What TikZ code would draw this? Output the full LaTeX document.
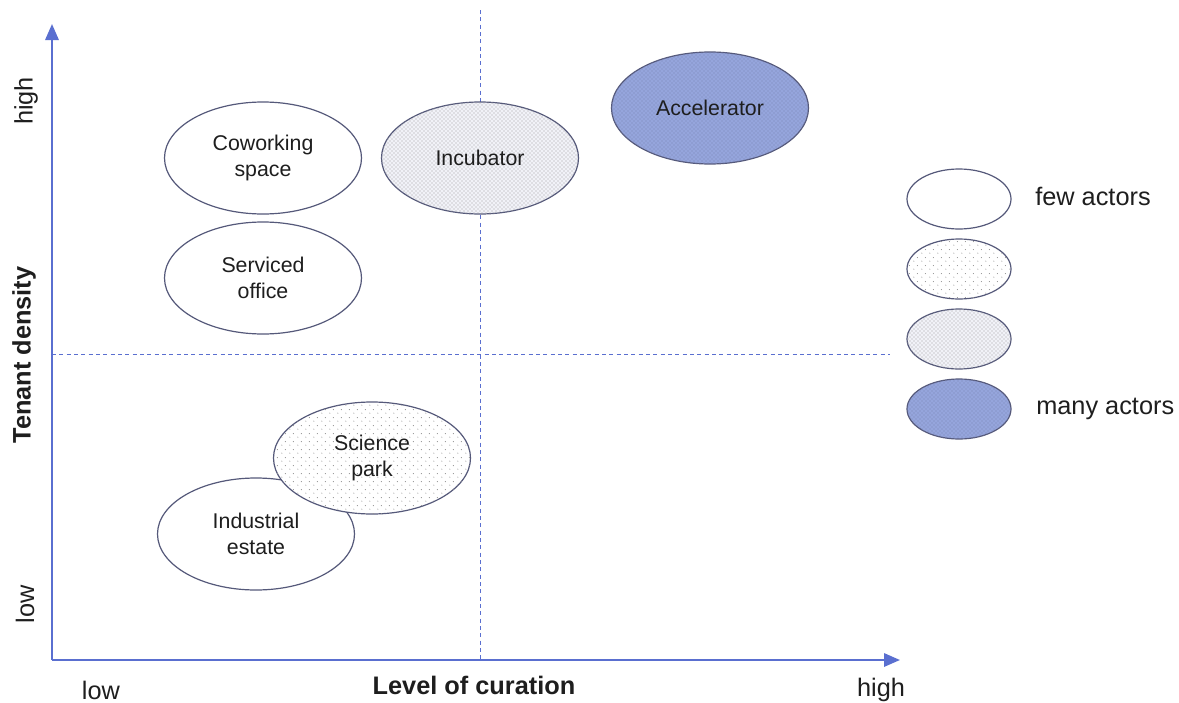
\documentclass[tikz,border=0pt]{standalone}
\usepackage{fontspec}
\setmainfont{Liberation Sans}
\usetikzlibrary{shapes.geometric,arrows.meta,patterns,patterns.meta}
\definecolor{axisblue}{HTML}{5A6FD0}
\definecolor{edge}{HTML}{55597A}
\definecolor{accfill}{HTML}{95A5DC}
\definecolor{accdot}{HTML}{4C5A9A}
\definecolor{midfill}{HTML}{F1F2F8}
\definecolor{txt}{HTML}{1E1E1E}
\def\px{0.75pt}
\tikzdeclarepattern{
  name=sparsedots, type=uncolored,
  bottom left={(0pt,0pt)}, top right={(6pt,6pt)}, tile size={(6pt,6pt)},
  code={\pgfpathcircle{\pgfqpoint{1.5pt}{1.5pt}}{0.45pt}\pgfpathcircle{\pgfqpoint{4.5pt}{4.5pt}}{0.45pt}\pgfusepath{fill}}
}
\tikzset{
  blob/.style={ellipse, draw=edge, line width=0.9pt, inner sep=0pt,
    minimum width=197*\px, minimum height=112*\px, align=center,
    font=\fontsize{16}{20}\selectfont, text=txt},
  few/.style={blob, fill=white},
  some/.style={blob, fill=white, postaction={pattern=sparsedots, pattern color=gray!85}},
  more/.style={blob, fill=midfill, postaction={pattern=crosshatch dots, pattern color=gray!75}},
  many/.style={blob, fill=accfill, postaction={pattern=crosshatch dots, pattern color=accdot!75}},
  legend/.style={minimum width=104*\px, minimum height=60*\px},
  axis/.style={draw=axisblue, line width=1.6pt, -{Triangle[length=12pt,width=10pt]}},
  guide/.style={draw=axisblue, line width=0.7pt, dash pattern=on 3pt off 2.5pt},
  lab/.style={font=\fontsize{19}{22}\selectfont, text=txt, inner sep=0pt},
  blab/.style={lab, font=\fontsize{19}{22}\selectfont\bfseries}
}
\begin{document}
\begin{tikzpicture}[x=0.75pt, y=-0.75pt]
\useasboundingbox (0,0) rectangle (1179,703);
% guides
\coordinate (vtop) at (480,10);
\coordinate (vbot) at (480,660);
\coordinate (hl) at (52,354);
\coordinate (hr) at (890,354);
\draw[guide] (vtop) -- (vbot);
\draw[guide] (hl) -- (hr);
% axes
\coordinate (O) at (52,660);
\coordinate (ytip) at (52,24);
\coordinate (xtip) at (900,660);
\draw[axis] (O) -- (ytip);
\draw[axis] (O) -- (xtip);
% ellipses
\node[few] (cow) at (263,158) {Coworking\\space};
\node[few] (svc) at (263,278) {Serviced\\office};
\node[more] (inc) at (480,158) {Incubator};
\node[many] (acc) at (710,108) {Accelerator};
\node[few] (ind) at (256,534) {Industrial\\estate};
\node[some] (sci) at (372,458) {Science\\park};
% legend
\node[few, legend] (l1) at (959,199) {};
\node[some, legend] (l2) at (959,269) {};
\node[more, legend] (l3) at (959,339) {};
\node[many, legend] (l4) at (959,409) {};
\node[lab, anchor=west] (lfew) at (1035,196) {few actors};
\node[lab, anchor=west] (lmany) at (1036,409) {many actors};
% axis labels
\node[lab, rotate=90] (yhigh) at (26,101) {high};
\node[lab, rotate=90] (ylow) at (25,604) {low};
\node[blab, rotate=90] (ytitle) at (24,355) {Tenant density};
\node[lab] (xlow) at (101,690) {low};
\node[blab] (xtitle) at (474,685) {Level of curation};
\node[lab] (xhigh) at (881,690) {high};
\end{tikzpicture}
\end{document}
